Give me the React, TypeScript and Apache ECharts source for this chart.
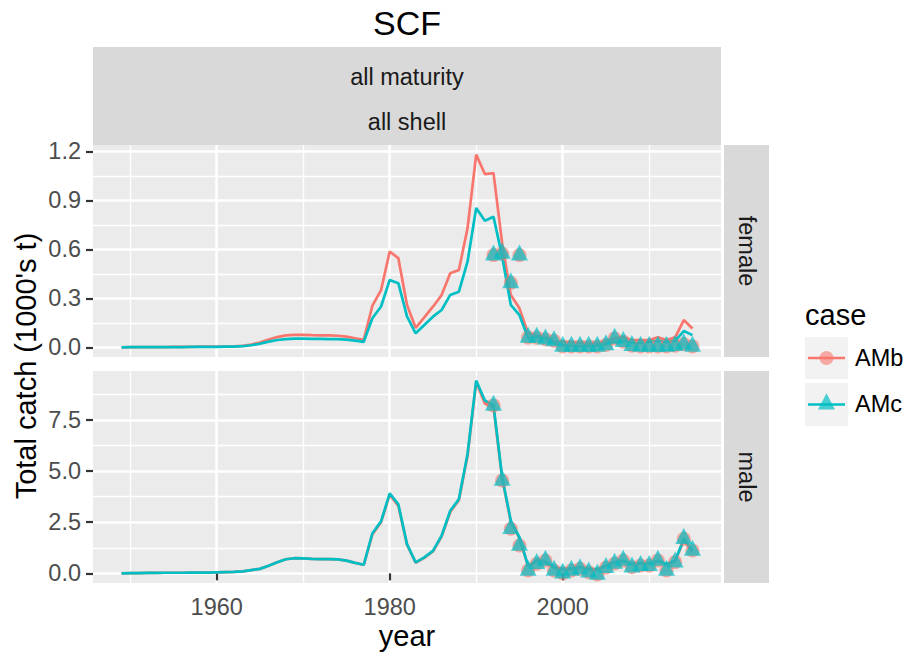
import React, { useEffect, useRef } from "react";
import * as echarts from "echarts";

const years = [
  1949, 1950, 1951, 1952, 1953, 1954, 1955, 1956, 1957, 1958, 1959, 1960, 1961, 1962, 1963, 1964, 1965,
  1966, 1967, 1968, 1969, 1970, 1971, 1972, 1973, 1974, 1975, 1976, 1977, 1978, 1979, 1980, 1981, 1982,
  1983, 1984, 1985, 1986, 1987, 1988, 1989, 1990, 1991, 1992, 1993, 1994, 1995, 1996, 1997, 1998, 1999,
  2000, 2001, 2002, 2003, 2004, 2005, 2006, 2007, 2008, 2009, 2010, 2011, 2012, 2013, 2014, 2015,
];

const femaleAMb = [
  0.0, 0.001, 0.001, 0.002, 0.002, 0.002, 0.003, 0.003, 0.003, 0.004, 0.004, 0.004, 0.005, 0.006, 0.009,
  0.017, 0.03, 0.048, 0.063, 0.073, 0.077, 0.077, 0.075, 0.074, 0.073, 0.071, 0.066, 0.056, 0.046, 0.255,
  0.35, 0.587, 0.546, 0.26, 0.12, 0.184, 0.249, 0.32, 0.454, 0.474, 0.73, 1.18, 1.061, 1.067, 0.638, 0.32,
  0.239, 0.086, 0.071, 0.065, 0.034, 0.034, 0.03, 0.028, 0.024, 0.024, 0.039, 0.055, 0.061, 0.045, 0.045,
  0.045, 0.061, 0.045, 0.061, 0.167, 0.116,
];

const femaleAMc = [
  0.0, 0.001, 0.001, 0.001, 0.002, 0.002, 0.002, 0.002, 0.003, 0.003, 0.003, 0.003, 0.004, 0.004, 0.007,
  0.013, 0.022, 0.035, 0.045, 0.051, 0.053, 0.053, 0.052, 0.052, 0.051, 0.05, 0.047, 0.041, 0.034, 0.178,
  0.25, 0.413, 0.393, 0.19, 0.086, 0.137, 0.188, 0.229, 0.321, 0.341, 0.525, 0.853, 0.775, 0.8, 0.556, 0.26,
  0.198, 0.055, 0.065, 0.055, 0.025, 0.014, 0.01, 0.008, 0.008, 0.012, 0.02, 0.034, 0.038, 0.028, 0.028,
  0.034, 0.04, 0.032, 0.04, 0.1, 0.075,
];

const maleAMb = [
  0.0, 0.01, 0.01, 0.02, 0.02, 0.03, 0.03, 0.03, 0.04, 0.04, 0.04, 0.05, 0.06, 0.07, 0.1, 0.16, 0.22,
  0.37, 0.54, 0.69, 0.74, 0.73, 0.71, 0.7, 0.7, 0.68, 0.62, 0.51, 0.42, 1.9, 2.5, 3.85, 3.3, 1.4, 0.52,
  0.76, 1.07, 1.8, 3.0, 3.58, 5.75, 9.35, 8.3, 8.12, 4.65, 2.52, 1.72, 0.35, 0.6, 0.55, 0.28, 0.2, 0.23,
  0.28, 0.2, 0.2, 0.36, 0.52, 0.6, 0.45, 0.48, 0.48, 0.6, 0.45, 0.6, 1.62, 1.05,
];

const maleAMc = [
  0.0, 0.01, 0.01, 0.02, 0.02, 0.03, 0.03, 0.03, 0.04, 0.04, 0.04, 0.05, 0.06, 0.07, 0.1, 0.16, 0.22,
  0.37, 0.54, 0.69, 0.74, 0.73, 0.71, 0.7, 0.7, 0.68, 0.62, 0.51, 0.42, 1.96, 2.54, 3.91, 3.37, 1.43, 0.54,
  0.78, 1.1, 1.84, 3.06, 3.63, 5.84, 9.42, 8.45, 8.22, 4.7, 2.57, 1.76, 0.37, 0.62, 0.56, 0.29, 0.21, 0.24,
  0.29, 0.21, 0.21, 0.37, 0.54, 0.62, 0.46, 0.49, 0.49, 0.62, 0.46, 0.62, 1.68, 1.11,
];

const obsYears = [
  1992, 1993, 1994, 1995, 1996, 1997, 1998, 1999, 2000, 2001, 2002, 2003, 2004, 2005, 2006, 2007, 2008,
  2009, 2010, 2011, 2012, 2013, 2014, 2015,
];
const femaleObs = [
  0.565, 0.575, 0.395, 0.565, 0.06, 0.06, 0.05, 0.04, 0.006, 0.006, 0.006, 0.006, 0.006, 0.015, 0.055,
  0.035, 0.01, 0.006, 0.006, 0.006, 0.006, 0.01, 0.02, 0.006,
];
const maleObs = [
  8.21, 4.54, 2.18, 1.36, 0.14, 0.47, 0.63, 0.14, 0.01, 0.14, 0.22, 0.06, -0.05, 0.28, 0.48, 0.63, 0.3,
  0.38, 0.38, 0.63, 0.14, 0.55, 1.69, 1.12,
];

const xMajorTicks = [1960, 1980, 2000];
const xMinorTicks = [1950, 1970, 1990, 2010];
const femaleMajorTicks = [0, 0.3, 0.6, 0.9, 1.2];
const femaleMinorTicks = [0.15, 0.45, 0.75, 1.05];
const maleMajorTicks = [0, 2.5, 5, 7.5];
const maleMinorTicks = [1.25, 3.75, 6.25, 8.75];

const RED = "#F8766D";
const TEAL = "#00BFC4";
const FONT = "'Liberation Sans', Arial, Helvetica, sans-serif";
const SMALL = 23.5;
const BIG = 29;

function expandRange(vals: number[]): [number, number] {
  const mn = Math.min(...vals);
  const mx = Math.max(...vals);
  const d = (mx - mn) * 0.05;
  return [mn - d, mx + d];
}

export default function App() {
  const ref = useRef<HTMLDivElement>(null);

  useEffect(() => {
    if (!ref.current) return;
    const chart = echarts.init(ref.current, null, { renderer: "svg" });

    const xr = expandRange(years);
    const fr = expandRange([...femaleAMb, ...femaleAMc, ...femaleObs, 0]);
    const mr = expandRange([...maleAMb, ...maleAMc, 0]);

    const gridL = 93;
    const gridW = 628;
    const top1 = 145;
    const top2 = 371;
    const gridH = 212;

    const majorSplit = { show: true, lineStyle: { color: "#FFFFFF", width: 2.5 } };
    const minorSplit = { show: true, lineStyle: { color: "#FFFFFF", width: 1.3 } };

    const hiddenX = (gridIndex: number, vals: number[], split: any) => ({
      gridIndex,
      type: "value",
      min: xr[0],
      max: xr[1],
      axisLine: { show: false },
      axisTick: { show: false, customValues: vals },
      axisLabel: { show: false, customValues: vals },
      splitLine: split,
    });
    const hiddenY = (gridIndex: number, rng: [number, number], vals: number[], split: any) => ({
      gridIndex,
      type: "value",
      min: rng[0],
      max: rng[1],
      axisLine: { show: false },
      axisTick: { show: false, customValues: vals },
      axisLabel: { show: false, customValues: vals },
      splitLine: split,
    });
    const visibleY = (gridIndex: number, rng: [number, number], vals: number[]) => ({
      gridIndex,
      type: "value",
      position: "left",
      min: rng[0],
      max: rng[1],
      axisLine: { show: false },
      axisTick: {
        show: true,
        length: 7,
        lineStyle: { color: "#333333", width: 2.2 },
        customValues: vals,
      },
      axisLabel: {
        show: true,
        customValues: vals,
        margin: 12,
        fontSize: SMALL,
        fontFamily: FONT,
        color: "#4D4D4D",
        formatter: (v: number) => v.toFixed(1),
      },
      splitLine: majorSplit,
    });

    const lineSeries = (xi: number, yi: number, vals: number[], color: string) => ({
      type: "line",
      xAxisIndex: xi,
      yAxisIndex: yi,
      data: years.map((y, i) => [y, vals[i]]),
      showSymbol: false,
      symbol: "none",
      lineStyle: { color, width: 2.7 },
      itemStyle: { color },
      z: 3,
      silent: true,
    });
    const circleSeries = (xi: number, yi: number, vals: number[]) => ({
      type: "scatter",
      xAxisIndex: xi,
      yAxisIndex: yi,
      data: obsYears.map((y, i) => [y, vals[i]]),
      symbol: "circle",
      symbolSize: 14,
      itemStyle: { color: RED, opacity: 0.6 },
      z: 4,
      silent: true,
    });
    const triSeries = (xi: number, yi: number, vals: number[]) => ({
      type: "scatter",
      xAxisIndex: xi,
      yAxisIndex: yi,
      data: obsYears.map((y, i) => [y, vals[i]]),
      symbol: "triangle",
      symbolSize: [17, 16],
      symbolOffset: [0, -2.7],
      itemStyle: { color: TEAL, opacity: 0.7 },
      z: 5,
      silent: true,
    });

    const txt = (text: string, x: number, y: number, size: number, color: string, align = "center", rotation = 0) => ({
      type: "text",
      x,
      y,
      rotation,
      silent: true,
      style: {
        text,
        x: 0,
        y: 0,
        fill: color,
        font: `${size}px ${FONT}`,
        fontSize: size,
        fontFamily: FONT,
        align,
        verticalAlign: "middle",
        textAlign: align,
        textVerticalAlign: "middle",
      },
    });

    chart.setOption({
      animation: false,
      backgroundColor: "#FFFFFF",
      grid: [
        { left: gridL, top: top1, width: gridW, height: gridH, show: true, backgroundColor: "#EBEBEB", borderWidth: 0, containLabel: false },
        { left: gridL, top: top2, width: gridW, height: gridH, show: true, backgroundColor: "#EBEBEB", borderWidth: 0, containLabel: false },
      ],
      xAxis: [
        hiddenX(0, xMajorTicks, majorSplit),
        hiddenX(0, xMinorTicks, minorSplit),
        {
          gridIndex: 1,
          type: "value",
          position: "bottom",
          min: xr[0],
          max: xr[1],
          axisLine: { show: false },
          axisTick: { show: true, length: 7, lineStyle: { color: "#333333", width: 2.2 }, customValues: xMajorTicks },
          axisLabel: {
            show: true,
            customValues: xMajorTicks,
            margin: 12,
            fontSize: SMALL,
            fontFamily: FONT,
            color: "#4D4D4D",
            formatter: (v: number) => String(v),
          },
          splitLine: majorSplit,
        },
        hiddenX(1, xMinorTicks, minorSplit),
      ],
      yAxis: [
        visibleY(0, fr, femaleMajorTicks),
        hiddenY(0, fr, femaleMinorTicks, minorSplit),
        visibleY(1, mr, maleMajorTicks),
        hiddenY(1, mr, maleMinorTicks, minorSplit),
      ],
      series: [
        lineSeries(0, 0, femaleAMb, RED),
        lineSeries(0, 0, femaleAMc, TEAL),
        circleSeries(0, 0, femaleObs),
        triSeries(0, 0, femaleObs),
        lineSeries(2, 2, maleAMb, RED),
        lineSeries(2, 2, maleAMc, TEAL),
        circleSeries(2, 2, maleObs),
        triSeries(2, 2, maleObs),
      ],
      graphic: [
        txt("SCF", 407, 23, 34, "#000000"),
        { type: "rect", silent: true, shape: { x: gridL, y: 47, width: gridW, height: 98 }, style: { fill: "#D9D9D9" } },
        txt("all maturity", 407, 77, SMALL, "#1A1A1A"),
        txt("all shell", 407, 122, SMALL, "#1A1A1A"),
        { type: "rect", silent: true, shape: { x: 724, y: top1, width: 45, height: gridH }, style: { fill: "#D9D9D9" } },
        { type: "rect", silent: true, shape: { x: 724, y: top2, width: 45, height: gridH }, style: { fill: "#D9D9D9" } },
        txt("female", 746.5, top1 + gridH / 2, SMALL, "#1A1A1A", "center", -Math.PI / 2),
        txt("male", 746.5, top2 + gridH / 2, SMALL, "#1A1A1A", "center", -Math.PI / 2),
        txt("Total catch (1000's t)", 26, 366, BIG, "#000000", "center", Math.PI / 2),
        txt("year", 407, 636, BIG, "#000000"),
        txt("case", 805, 315, BIG, "#000000", "left"),
        { type: "rect", silent: true, shape: { x: 805, y: 337, width: 43, height: 42 }, style: { fill: "#F2F2F2" } },
        { type: "line", silent: true, shape: { x1: 808, y1: 358, x2: 845, y2: 358 }, style: { stroke: RED, lineWidth: 2.7 } },
        { type: "circle", silent: true, shape: { cx: 826.5, cy: 358, r: 7 }, style: { fill: RED, opacity: 0.6 } },
        { type: "rect", silent: true, shape: { x: 805, y: 383, width: 43, height: 43 }, style: { fill: "#F2F2F2" } },
        { type: "line", silent: true, shape: { x1: 808, y1: 404.5, x2: 845, y2: 404.5 }, style: { stroke: TEAL, lineWidth: 2.7 } },
        {
          type: "polygon",
          silent: true,
          shape: { points: [[826.5, 393.3], [835, 409.5], [818, 409.5]] },
          style: { fill: TEAL, opacity: 0.7 },
        },
        txt("AMb", 855, 358, SMALL, "#000000", "left"),
        txt("AMc", 855, 404, SMALL, "#000000", "left"),
      ],
    });

    return () => {
      chart.dispose();
    };
  }, []);

  return (
    <div
      ref={ref}
      style={{ position: "fixed", left: 0, top: 0, width: 909, height: 657, background: "#FFFFFF" }}
    />
  );
}
